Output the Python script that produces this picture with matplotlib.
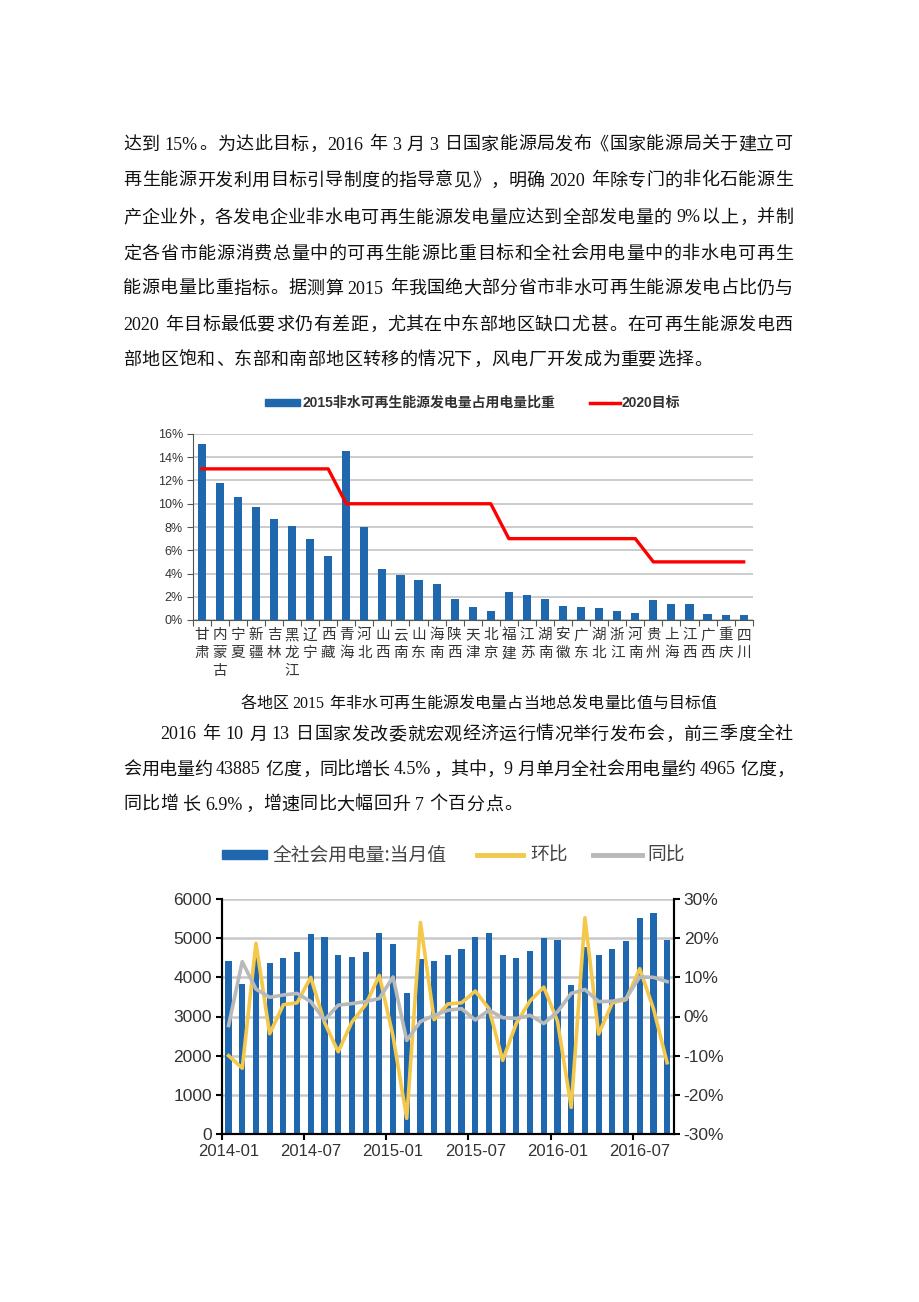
import re
import matplotlib
matplotlib.use("Agg")
import numpy as np
import matplotlib.pyplot as plt
from matplotlib.patches import Rectangle
from matplotlib.lines import Line2D

CJK = "Noto Sans CJK SC"
SERIF = "Liberation Serif"
SANS = "Liberation Sans"
W, H = 920, 1302

# ---- chart 1: non-hydro renewable share by province (2015) vs 2020 target
provinces = ["甘肃", "内蒙古", "宁夏", "新疆", "吉林", "黑龙江", "辽宁", "西藏", "青海", "河北",
             "山西", "云南", "山东", "海南", "陕西", "天津", "北京", "福建", "江苏", "湖南",
             "安徽", "广东", "湖北", "浙江", "河南", "贵州", "上海", "江西", "广西", "重庆", "四川"]
share_2015 = [15.1, 11.8, 10.6, 9.7, 8.7, 8.1, 7.0, 5.5, 14.5, 8.0,
              4.4, 3.9, 3.4, 3.1, 1.8, 1.1, 0.8, 2.4, 2.15, 1.8,
              1.2, 1.1, 1.0, 0.8, 0.6, 1.7, 1.4, 1.35, 0.5, 0.45, 0.4]
target_2020 = [13, 13, 13, 13, 13, 13, 13, 13, 10, 10,
               10, 10, 10, 10, 10, 10, 10, 7, 7, 7,
               7, 7, 7, 7, 7, 5, 5, 5, 5, 5, 5]
legend1 = ["2015非水可再生能源发电量占用电量比重", "2020目标"]

# ---- chart 2: monthly electricity consumption 2014-01 .. 2016-09
power = [4417, 3838, 4556, 4357, 4485, 4647, 5106, 5021, 4570, 4511, 4638, 5123,
         4860, 3591, 4460, 4425, 4562, 4723, 5030, 5140, 4562, 4485, 4664, 5013,
         4953, 3813, 4780, 4562, 4723, 4928, 5523, 5634, 4962]
mom = [-10.0, -13.2, 18.7, -4.4, 3.0, 3.5, 10.0, -1.5, -9.0, -1.4, 3.0, 10.5,
       -5.0, -26.0, 24.0, -0.8, 3.2, 3.5, 6.5, 2.0, -11.2, -1.7, 4.0, 7.5,
       -1.2, -23.2, 25.2, -4.5, 3.5, 4.3, 12.2, 2.0, -11.8]
yoy = [-2.3, 14.0, 7.0, 4.9, 5.5, 5.9, 3.8, -0.9, 2.9, 3.3, 3.8, 4.6,
       10.1, -6.1, -1.3, 0.3, 1.6, 2.0, -0.9, 1.6, -0.3, -0.5, 0.3, -1.8,
       1.2, 5.9, 6.9, 3.8, 3.9, 4.6, 10.1, 10.0, 8.9]
month_ticks = ["2014-01", "2014-07", "2015-01", "2015-07", "2016-01", "2016-07"]
legend2 = ["全社会用电量:当月值", "环比", "同比"]

para1 = [
    "达到 15%。为达此目标，2016 年 3 月 3 日国家能源局发布《国家能源局关于建立可",
    "再生能源开发利用目标引导制度的指导意见》，明确 2020 年除专门的非化石能源生",
    "产企业外，各发电企业非水电可再生能源发电量应达到全部发电量的 9%以上，并制",
    "定各省市能源消费总量中的可再生能源比重目标和全社会用电量中的非水电可再生",
    "能源电量比重指标。据测算 2015 年我国绝大部分省市非水可再生能源发电占比仍与",
    "2020 年目标最低要求仍有差距，尤其在中东部地区缺口尤甚。在可再生能源发电西",
    "部地区饱和、东部和南部地区转移的情况下，风电厂开发成为重要选择。",
]
caption1 = "各地区 2015 年非水可再生能源发电量占当地总发电量比值与目标值"
para2 = [
    "2016 年 10 月 13 日国家发改委就宏观经济运行情况举行发布会，前三季度全社",
    "会用电量约 43885 亿度，同比增长 4.5%，其中，9 月单月全社会用电量约 4965 亿度，",
    "同比增 长 6.9%，增速同比大幅回升 7 个百分点。",
]

fig = plt.figure(figsize=(9.2, 13.02), dpi=100)
renderer = fig.canvas.get_renderer()


def fx(x):
    return x / W


def fy(y):
    return 1 - y / H


def tok_width(t, size, pitch):
    if t == " ":
        return size * 0.25 * 100 / 72
    if len(t) == 1 and ord(t) > 0x2000:
        return pitch
    tmp = fig.text(0, 0, t, fontsize=size, family=SERIF)
    w = tmp.get_window_extent(renderer).width
    tmp.remove()
    return w + 1.5


def text_line(s, x0, yc, x1=None, size=13, pitch=18.4):
    # draws one line of body text, stretched to x1 when given
    toks = re.findall(r"[0-9A-Za-z.%]+| |.", s)
    widths = [tok_width(t, size, pitch) for t in toks]
    gap = 0.0
    if x1 is not None and len(toks) > 1:
        gap = (x1 - x0 - sum(widths)) / (len(toks) - 1)
    base = yc + size * 100 / 72 * 0.36
    x = x0
    for t, w in zip(toks, widths):
        if t != " ":
            if len(t) == 1 and ord(t) > 0x2000:
                fam, ha, xx = CJK, "center", x + w / 2
                if t in "，。、》：；":
                    ha, xx = "left", x + 1
                elif t == "《":
                    ha, xx = "right", x + w - 1
            else:
                fam, ha, xx = SERIF, "left", x
            fig.text(fx(xx), fy(base), t, fontsize=size, family=fam,
                     ha=ha, va="baseline", color="#111111")
        x += w + gap


# body text
for i, (line, y) in enumerate(zip(para1, [143, 179, 216, 252, 287, 323, 358])):
    text_line(line, 123, y, None if i == len(para1) - 1 else 793)

text_line(caption1, 240, 702, 717, size=11.5, pitch=16.5)
text_line(para2[0], 160, 733, 793)
text_line(para2[1], 123, 768, 794)
text_line(para2[2], 123, 803)

# ---- chart 1
ax1 = fig.add_axes([fx(192.7), fy(620), 560 / W, 186 / H])
x = np.arange(len(provinces))
ax1.bar(x, share_2015, width=0.45, color="#1f68ad", zorder=3)
ax1.plot(x, target_2020, color="#ff0000", lw=2.4, zorder=4)
ax1.set_xlim(-0.5, len(provinces) - 0.5)
ax1.set_ylim(0, 16)
ax1.set_yticks(range(0, 17, 2))
ax1.set_yticklabels([f"{v}%" for v in range(0, 17, 2)], family=SANS, fontsize=9, color="#333333")
ax1.yaxis.grid(True, color="#c8c8c8", lw=1.3)
ax1.set_axisbelow(True)
for s in ["top", "right"]:
    ax1.spines[s].set_visible(False)
for s in ["left", "bottom"]:
    ax1.spines[s].set_color("#555555")
ax1.set_xticks(np.arange(-0.5, len(provinces), 1))
ax1.set_xticklabels([])
ax1.set_xticks(x, minor=True)
ax1.set_xticklabels(["\n".join(p) for p in provinces], minor=True, family=CJK,
                    fontsize=10.5, linespacing=1.35, va="top", color="#333333")
ax1.tick_params(axis="x", which="minor", length=0, pad=6)
ax1.tick_params(axis="x", which="major", length=4, color="#555555")
ax1.tick_params(axis="y", length=4, pad=3, color="#555555")

# legend 1
fig.add_artist(Rectangle((fx(265), fy(406)), 35 / W, 7 / H, color="#1f68ad", transform=fig.transFigure))
fig.text(fx(303), fy(403), legend1[0], family=[SANS, CJK], fontsize=10, weight="bold",
         va="center", color="#333333")
fig.add_artist(Line2D([fx(590), fx(620)], [fy(403), fy(403)], color="#ff0000", lw=2.5,
                      transform=fig.transFigure))
fig.text(fx(622), fy(403), legend1[1], family=[SANS, CJK], fontsize=10, weight="bold",
         va="center", color="#333333")

# ---- chart 2
ax2 = fig.add_axes([fx(221.7), fy(1134), 452.3 / W, 235 / H])
m = np.arange(len(power))
ax2.bar(m, power, width=0.45, color="#1f67ae", zorder=2)
ax2.set_xlim(-0.5, len(power) - 0.5)
ax2.set_ylim(0, 6000)
ax2.set_yticks(range(0, 6001, 1000))
ax2.set_yticklabels([str(v) for v in range(0, 6001, 1000)], family=SANS, fontsize=12.5, color="#333333")
ax2.yaxis.grid(True, color="#c8c8c8", lw=1.8)
ax2.set_axisbelow(True)
ax2.set_xticks(np.arange(-0.5, len(power), 6))
ax2.set_xticklabels([])
ax2.set_xticks(np.arange(0, len(power), 6), minor=True)
ax2.set_xticklabels(month_ticks, minor=True, family=SANS, fontsize=12, color="#333333")
ax2.tick_params(axis="x", which="minor", length=0, pad=7)
ax2.tick_params(axis="x", which="major", length=4, width=1.5)
ax2.tick_params(axis="y", length=4, width=1.5, pad=3)

ax3 = ax2.twinx()
ax3.plot(m, mom, color="#f3c84b", lw=2.6, zorder=3)
ax3.plot(m, yoy, color="#b9b9b9", lw=2.6, zorder=4)
ax3.set_ylim(-30, 30)
ax3.set_yticks(range(-30, 31, 10))
ax3.set_yticklabels([f"{v}%" for v in range(-30, 31, 10)], family=SANS, fontsize=12.5, color="#333333")
ax3.tick_params(axis="y", length=4, width=1.5, pad=3)
for a in (ax2, ax3):
    a.spines["top"].set_visible(False)
    for s in ["left", "right", "bottom"]:
        a.spines[s].set_linewidth(1.5)

# legend 2
fig.add_artist(Rectangle((fx(222), fy(859)), 45 / W, 9 / H, color="#1f67ae", transform=fig.transFigure))
fig.text(fx(273), fy(855), legend2[0], family=CJK, fontsize=13.5, va="center", color="#444444")
fig.add_artist(Line2D([fx(477), fx(523)], [fy(855), fy(855)], color="#f3c84b", lw=3.5,
                      transform=fig.transFigure))
fig.text(fx(530), fy(855), legend2[1], family=CJK, fontsize=13.5, va="center", color="#444444")
fig.add_artist(Line2D([fx(593), fx(642)], [fy(855), fy(855)], color="#b9b9b9", lw=3.5,
                      transform=fig.transFigure))
fig.text(fx(647), fy(855), legend2[2], family=CJK, fontsize=13.5, va="center", color="#444444")

fig.savefig("out.png", dpi=100)
